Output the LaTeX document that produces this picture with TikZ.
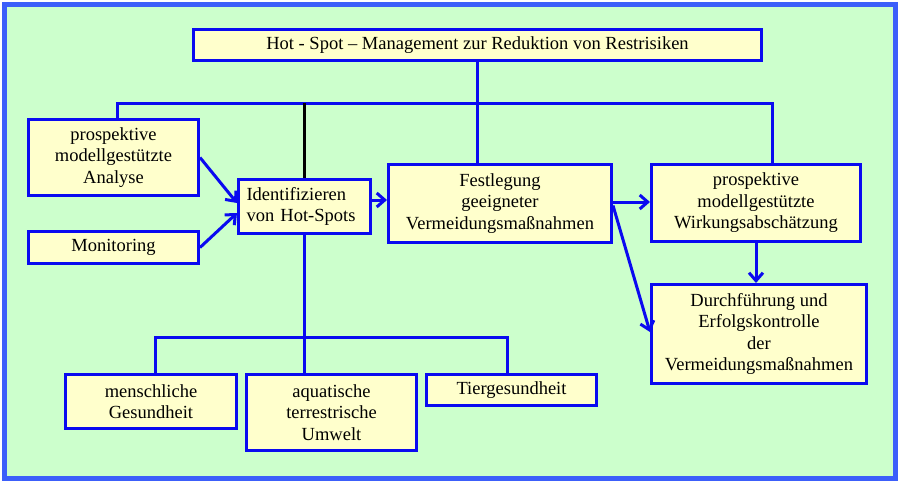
\documentclass[tikz,border=0pt]{standalone}
\usepackage{fontspec}
\setmainfont{Liberation Serif}
\usepackage{tikz}
\usetikzlibrary{arrows.meta, positioning}

\definecolor{hgGruen}{RGB}{204,255,204}
\definecolor{boxGelb}{RGB}{255,255,204}
\definecolor{linBlau}{RGB}{10,10,240}
\definecolor{rahmBlau}{RGB}{60,95,250}

\tikzset{
	kasten/.style={draw=linBlau, fill=boxGelb, line width=3pt, align=center,
		inner sep=2pt, font=\fontsize{18.5}{21.5}\selectfont},
	verb/.style={draw=linBlau, line width=3pt},
	pfeil/.style={verb, -{Straight Barb[length=8pt, width=14pt, line width=3pt]}}
}

\begin{document}
\begin{tikzpicture}[x=1pt, y=-1pt]

	% Hintergrund mit Rahmen
	\draw[fill=hgGruen, draw=rahmBlau, line width=5pt] (4.5,4.5) rectangle (895.5,478.5);
	\useasboundingbox (0,0) rectangle (900,483);

	\node[kasten, minimum width=568pt, minimum height=31pt] (titel) at (477.5,45) {Hot - Spot – Management zur Reduktion von Restrisiken};

	\node[kasten, minimum width=170pt, minimum height=76pt] (analyse) at (113.5,157.5) {prospektive\\ modellgestützte\\ Analyse};
	\node[kasten, minimum width=170pt, minimum height=32pt] (monitor) at (113.5,247.5) {Monitoring};
	\node[kasten, minimum width=132pt, minimum height=54pt, text width=116pt, align=left] (ident) at (304.5,206.5) {Identifizieren\\ von Hot-Spots};
	\node[kasten, minimum width=223pt, minimum height=78pt] (festleg) at (500,203.5) {Festlegung\\ geeigneter\\ Vermeidungsmaßnahmen};
	\node[kasten, minimum width=209pt, minimum height=77pt] (wirkung) at (756,203) {prospektive\\ modellgestützte\\ Wirkungsabschätzung};
	\node[kasten, minimum width=215pt, minimum height=99pt] (durch) at (759,334) {Durchführung und\\ Erfolgskontrolle\\ der\\ Vermeidungsmaßnahmen};

	\node[kasten, minimum width=171pt, minimum height=54pt] (mensch) at (151,401.5) {menschliche\\ Gesundheit};
	\node[kasten, minimum width=170pt, minimum height=76pt] (umwelt) at (331.5,412.5) {aquatische\\ terrestrische\\ Umwelt};
	\node[kasten, minimum width=170pt, minimum height=31pt] (tier) at (511.5,390) {Tiergesundheit};

	% Verteiler
	\coordinate (obenL) at (117,103);
	\coordinate (obenR) at (772,103);
	\coordinate (untenL) at (155,337);
	\coordinate (untenR) at (507,337);

	\draw[verb] (titel.south) -- (titel.south |- festleg.north);
	\draw[verb] (obenL |- analyse.north) -- (obenL) -- (obenR) -- (obenR |- wirkung.north);
	\draw[black, line width=3pt] (ident.north) -- (ident.north |- obenL);
	\draw[verb] (ident.south) -- (ident.south |- umwelt.north);
	\draw[verb] (untenL |- mensch.north) -- (untenL) -- (untenR) -- (untenR |- tier.north);

	% Pfeile
	\draw[pfeil] (analyse.east) -- ([yshift=3.5pt]ident.west);
	\draw[pfeil] (monitor.east) -- ([yshift=-6.5pt]ident.west);
	\draw[pfeil] ([yshift=6.5pt]ident.east) -- ([yshift=6.5pt]ident.east -| festleg.west);
	\draw[pfeil] ([yshift=1.5pt]festleg.east) -- ([yshift=1.5pt]festleg.east -| wirkung.west);
	\draw[pfeil] ([yshift=-2pt]festleg.east) -- ([yshift=2pt]durch.west);
	\draw[pfeil] (wirkung.south) -- (wirkung.south |- durch.north);

\end{tikzpicture}
\end{document}
